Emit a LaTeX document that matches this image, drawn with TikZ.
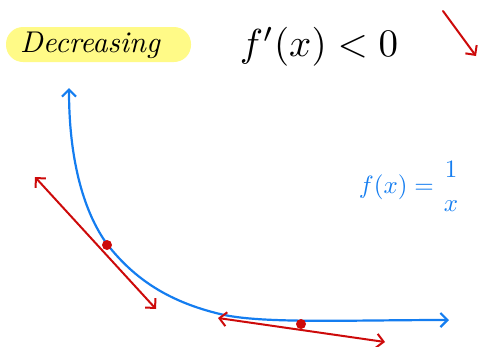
\documentclass[tikz,border=0pt]{standalone}
\usepackage{amsmath}
\usetikzlibrary{arrows.meta}
\definecolor{penblue}{RGB}{20,125,240}
\definecolor{penred}{RGB}{205,10,10}
\definecolor{hilite}{RGB}{255,250,135}

\begin{document}
\begin{tikzpicture}[x=1pt, y=-1pt, >={Straight Barb[length=7pt,width=14pt]},
    graph/.style={penblue, line width=2.2pt, line cap=round},
    tangent/.style={penred, line width=2pt, line cap=round},
    touch/.style={circle, fill=penred, inner sep=0pt, minimum size=10pt}]
  \useasboundingbox (0,0) rectangle (479,346);
  % Title: highlighted word and the sign of the derivative
  \fill[hilite, rounded corners=17pt] (6,27) rectangle (191,62);
  \node[scale=3.0] (title) at (90,45) {\itshape Decreasing};
  \node[scale=3.9] (sign) at (319,47) {$f'(x) < 0$};
  \coordinate (down0) at (443,11);
  \coordinate (down1) at (476,56);
  \draw[tangent, ->] (down0) -- (down1);
  % The curve y = 1/x
  \draw[graph, <->] (69,88) .. controls (69,170) and (88,218) .. (107,244)
    .. controls (135,280) and (170,302) .. (220,314)
    .. controls (260,324) and (350,320) .. (449,320);
  \node[penblue, scale=2.5] (rule) at (410,186)
    {$f(x) = \genfrac{}{}{0pt}{0}{1}{x}$};
  % Tangent lines at two points
  \node[touch] (p) at (107,245) {};
  \node[touch] (q) at (301,324) {};
  \coordinate (p0) at (35,177);
  \coordinate (p1) at (156,309);
  \coordinate (q0) at (218,318);
  \coordinate (q1) at (385,342);
  \draw[tangent, <->] (p0) -- (p1);
  \draw[tangent, <->] (q0) -- (q1);
\end{tikzpicture}
\end{document}
